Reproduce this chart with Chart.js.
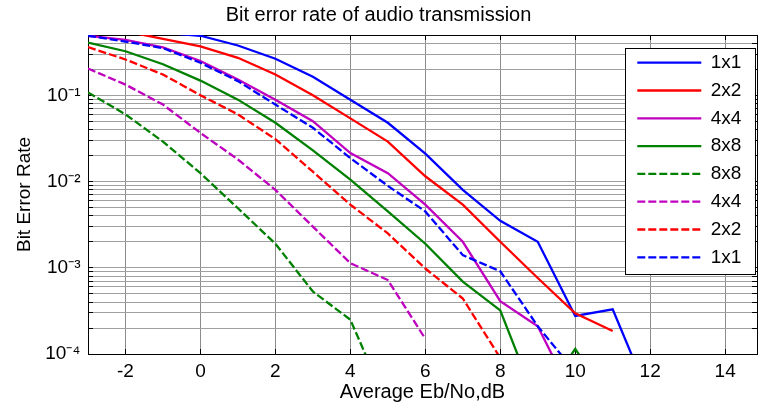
<!DOCTYPE html>
<html>
<head>
<meta charset="utf-8">
<script src="https://cdn.jsdelivr.net/npm/chart.js@4/dist/chart.umd.min.js"></script>
<style>
  html, body { margin: 0; padding: 0; background: #ffffff; }
  #wrap { width: 758px; height: 411px; position: relative; }
</style>
</head>
<body>
<div id="wrap"><canvas id="c" width="758" height="411"></canvas></div>
<script>
// ---- data ----
const ebNo = [-3, -2, -1, 0, 1, 2, 3, 4, 5, 6, 7, 8, 9, 10, 11, 12];

const ber1x1Solid  = [0.60, 0.56, 0.53, 0.49, 0.378, 0.265, 0.164, 0.089, 0.048, 0.021, 0.008, 0.0035, 0.002, 0.000276, 0.00033, 0.00003];
const ber2x2Solid  = [0.60, 0.55, 0.452, 0.37, 0.272, 0.174, 0.10, 0.054, 0.029, 0.0115, 0.0054, 0.002, 0.00076, 0.000296, 0.000185, null];
const ber4x4Solid  = [0.49, 0.44, 0.36, 0.25, 0.152, 0.089, 0.05, 0.0214, 0.0125, 0.0054, 0.002, 0.00041, 0.00021, 0.0000285, null, null];
const ber8x8Solid  = [0.408, 0.324, 0.229, 0.148, 0.089, 0.048, 0.023, 0.0105, 0.0045, 0.0019, 0.00069, 0.00032, 0.000025, 0.000115, 0.000025, null];
const ber8x8Dashed = [0.108, 0.06, 0.029, 0.0125, 0.0049, 0.0019, 0.00053, 0.00025, 0.000025, null, null, null, null, null, null, null];
const ber4x4Dashed = [0.204, 0.133, 0.078, 0.0366, 0.018, 0.008, 0.003, 0.00113, 0.00072, 0.00015, null, null, null, null, null, null];
const ber2x2Dashed = [0.362, 0.26, 0.174, 0.1, 0.06, 0.031, 0.013, 0.0054, 0.0025, 0.00098, 0.00044, 0.00009, null, null, null, null];
const ber1x1Dashed = [0.49, 0.42, 0.352, 0.238, 0.146, 0.078, 0.042, 0.0187, 0.0089, 0.0045, 0.0014, 0.00091, 0.00021, 0.000062, null, null];

const seriesLabels = ['1x1', '2x2', '4x4', '8x8', '8x8', '4x4', '2x2', '1x1'];
const seriesValues = [ber1x1Solid, ber2x2Solid, ber4x4Solid, ber8x8Solid, ber8x8Dashed, ber4x4Dashed, ber2x2Dashed, ber1x1Dashed];

const xTickValues = [-2, 0, 2, 4, 6, 8, 10, 12, 14];
const yDecadeLabels = ['10\u207B\u2074', '10\u207B\u00B3', '10\u207B\u00B2', '10\u207B\u00B9'];
const yDecadeExponents = [-4, -3, -2, -1];

const chartTitle = 'Bit error rate of audio transmission';
const xTitle = 'Average Eb/No,dB';
const yTitle = 'Bit Error Rate';

// ---- styles ----
const seriesColors = ['#0000FF', '#FF0000', '#BF00BF', '#008000', '#008000', '#BF00BF', '#FF0000', '#0000FF'];
const seriesDashed = [false, false, false, false, true, true, true, true];
const DASH = [8, 3];
const FONT = "'Liberation Sans', Arial, Helvetica, sans-serif";
const X_MIN = -3, X_MAX = 14.85, Y_MIN = 1e-4, Y_MAX = 0.5;

Chart.defaults.font.family = FONT;
Chart.defaults.color = '#000000';

function setXTicks(scale) { scale.ticks = xTickValues.map(v => ({ value: v })); }
function setYTicks(scale) {
  const t = [];
  for (const e of yDecadeExponents) {
    for (let m = 1; m <= 9; m++) {
      const v = m * Math.pow(10, e);
      if (v <= Y_MAX * (1 + 1e-9)) t.push({ value: v });
    }
  }
  scale.ticks = t;
}
function yLabel(v) {
  const lg = Math.log10(v);
  const e = Math.round(lg);
  if (Math.abs(lg - e) > 1e-6) return '';
  const idx = yDecadeExponents.indexOf(e);
  return idx >= 0 ? yDecadeLabels[idx] : '';
}

const datasets = seriesValues.map((arr, i) => ({
  label: seriesLabels[i],
  data: ebNo.map((x, j) => ({ x: x, y: arr[j] })).filter(p => p.y !== null),
  borderColor: seriesColors[i],
  backgroundColor: seriesColors[i],
  borderWidth: 2.3,
  borderDash: seriesDashed[i] ? DASH : [],
  pointRadius: 0,
  pointHoverRadius: 0,
  pointStyle: 'line',
  tension: 0,
  fill: false,
  clip: 0,
  order: seriesValues.length - 1 - i
}));

const framePlugin = {
  id: 'frameAndLegend',
  beforeLayout(chart) {
    const lg = chart.legend;
    if (lg && !lg._zPatched) {
      lg._layers = () => [{ z: 1, draw: (ca) => lg.draw(ca) }];
      lg._zPatched = true;
    }
  },
  afterLayout(chart) {
    const lg = chart.legend;
    const ca = chart.chartArea;
    if (!lg || !ca) return;
    const pad = lg.options.labels.padding;
    const fs = lg.options.labels.font.size;
    const lineStartX = ca.right - 119.7;
    const firstRowCenter = ca.top + 27.7;
    lg.left = lineStartX - pad;
    lg.top = firstRowCenter - fs / 2 - pad;
    lg.right = ca.right;
    lg.bottom = ca.bottom;
    lg.width = lg.right - lg.left;
    lg.height = lg.bottom - lg.top;
  },
  afterDatasetsDraw(chart) {
    const ca = chart.chartArea;
    const ctx = chart.ctx;
    const l = Math.round(ca.right - 132.5) + 0.5;
    const t = Math.round(ca.top + 13) + 0.5;
    const r = Math.round(ca.right - 2.5) + 0.5;
    const b = Math.round(ca.top + 239) + 0.5;
    ctx.save();
    ctx.fillStyle = '#ffffff';
    ctx.fillRect(l, t, r - l, b - t);
    ctx.strokeStyle = '#000000';
    ctx.lineWidth = 1;
    ctx.strokeRect(l, t, r - l, b - t);
    ctx.restore();
  }
};

new Chart(document.getElementById('c'), {
  type: 'line',
  data: { datasets: datasets },
  options: {
    responsive: false,
    devicePixelRatio: 1,
    animation: false,
    events: [],
    layout: { padding: { left: 0, right: 1, top: 0, bottom: 0 } },
    plugins: {
      title: {
        display: true,
        text: chartTitle,
        color: '#000000',
        font: { size: 20, weight: 'normal', family: FONT },
        padding: { top: 3, bottom: 8 }
      },
      legend: {
        display: true,
        position: 'chartArea',
        align: 'start',
        labels: {
          font: { size: 19, family: FONT },
          color: '#000000',
          usePointStyle: true,
          pointStyleWidth: 64,
          padding: 8.8,
          sort: (a, b) => a.datasetIndex - b.datasetIndex,
          generateLabels: (chart) => {
            const items = Chart.defaults.plugins.legend.labels.generateLabels(chart);
            items.forEach(it => {
              const ds = chart.data.datasets[it.datasetIndex];
              it.lineDash = ds.borderDash || [];
              it.lineWidth = ds.borderWidth;
              it.strokeStyle = ds.borderColor;
              it.fillStyle = ds.borderColor;
              it.pointStyle = 'line';
              it.lineCap = 'butt';
            });
            return items;
          }
        }
      },
      tooltip: { enabled: false }
    },
    scales: {
      x: {
        type: 'linear',
        position: 'bottom',
        min: X_MIN,
        max: X_MAX,
        afterBuildTicks: setXTicks,
        afterFit: (s) => { s.height = 57; },
        grid: { color: '#8c8c8c', lineWidth: 1, drawTicks: true, tickLength: -5, tickColor: '#000000', tickWidth: 1 },
        border: { display: true, color: '#000000', width: 1 },
        ticks: {
          font: { size: 19, family: FONT },
          color: '#000000',
          padding: 11,
          maxRotation: 0,
          autoSkip: false,
          callback: (v) => String(v)
        },
        title: {
          display: true,
          text: xTitle,
          color: '#000000',
          font: { size: 20, family: FONT },
          padding: { top: 0, bottom: 7 }
        }
      },
      xTop: {
        type: 'linear',
        position: 'top',
        min: X_MIN,
        max: X_MAX,
        afterBuildTicks: setXTicks,
        afterFit: (s) => { s.height = 0; },
        grid: { drawOnChartArea: false, drawTicks: true, tickLength: -5, tickColor: '#000000', tickWidth: 1 },
        border: { display: true, color: '#000000', width: 1 },
        ticks: { display: false }
      },
      y: {
        type: 'logarithmic',
        position: 'left',
        min: Y_MIN,
        max: Y_MAX,
        afterBuildTicks: setYTicks,
        afterFit: (s) => { s.width = 88; },
        grid: { color: '#a0a0a0', lineWidth: 1, drawTicks: true, tickLength: -5, tickColor: '#000000', tickWidth: 1 },
        border: { display: true, color: '#000000', width: 1 },
        ticks: {
          font: { size: 19, family: FONT },
          color: '#000000',
          padding: 12.5,
          autoSkip: false,
          callback: (v) => yLabel(v)
        },
        title: {
          display: true,
          text: yTitle,
          color: '#000000',
          font: { size: 19, family: FONT },
          padding: { top: 13, bottom: 0 }
        }
      },
      yRight: {
        type: 'logarithmic',
        position: 'right',
        min: Y_MIN,
        max: Y_MAX,
        afterBuildTicks: setYTicks,
        afterFit: (s) => { s.width = 0; },
        grid: { drawOnChartArea: false, drawTicks: true, tickLength: -5, tickColor: '#000000', tickWidth: 1 },
        border: { display: true, color: '#000000', width: 1 },
        ticks: { display: false }
      }
    }
  },
  plugins: [framePlugin]
});
</script>
</body>
</html>
